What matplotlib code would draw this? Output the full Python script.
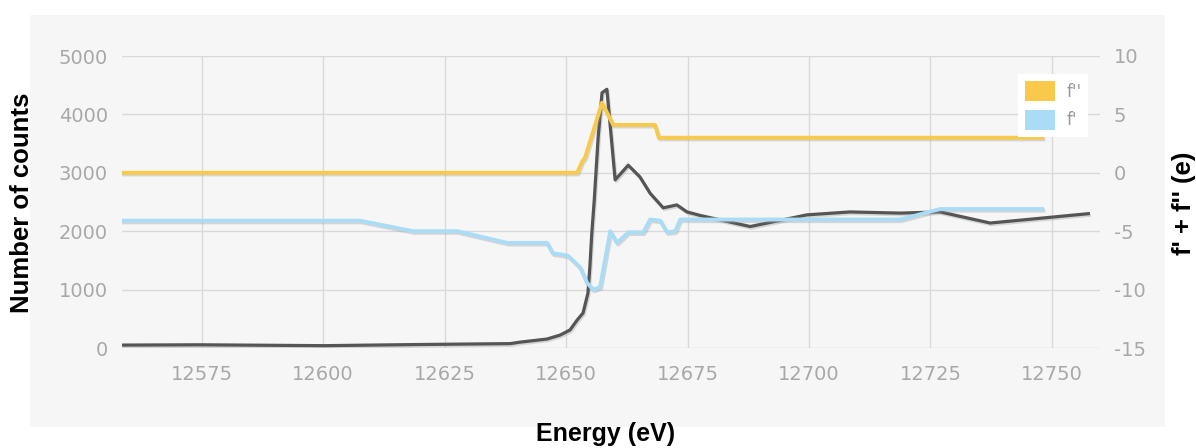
import matplotlib
matplotlib.use('Agg')
import matplotlib.pyplot as plt
import matplotlib.patheffects as pe
from matplotlib.patches import Patch, Rectangle

plt.rcParams['axes.unicode_minus'] = False

# values

# measured counts (left axis)
counts_e = [12558.6, 12574.6, 12600.2, 12620.0, 12638.5, 12640.5, 12646.1, 12648.8,
            12650.8, 12652.3, 12653.5, 12654.5, 12654.9, 12655.3, 12655.8, 12656.6,
            12657.4, 12658.4, 12660.1, 12662.8, 12665.2, 12667.3, 12670.0, 12672.8,
            12674.9, 12677.6, 12687.9, 12699.6, 12708.4, 12718.8, 12727.0, 12737.3,
            12757.5]
counts = [50, 55, 40, 60, 75, 100, 154, 222,
          308, 480, 600, 940, 1390, 1970, 2530, 3600,
          4370, 4430, 2880, 3130, 2930, 2650, 2400, 2450,
          2330, 2270, 2080, 2280, 2330, 2310, 2330, 2140,
          2300]

# f'' (right axis)
fpp_e = [12558.6, 12652.3, 12653.3, 12653.9, 12657.4, 12659.7, 12668.3, 12669.1, 12748.0]
fpp = [0.0, 0.0, 0.95, 1.3, 6.0, 4.1, 4.1, 3.0, 3.0]

# f' (right axis)
fp_e = [12558.6, 12607.6, 12618.5, 12627.6, 12637.9, 12646.1, 12647.3, 12649.0,
        12650.4, 12652.9, 12654.3, 12655.6, 12657.0, 12659.1, 12660.5, 12662.8,
        12665.9, 12667.3, 12669.4, 12670.8, 12672.5, 12673.5, 12718.8, 12727.0,
        12748.0]
fp = [-4.1, -4.1, -5.0, -5.0, -6.0, -6.0, -6.9, -7.0,
      -7.1, -8.1, -9.4, -10.0, -9.8, -5.0, -6.0, -5.1,
      -5.1, -4.0, -4.1, -5.1, -5.0, -4.0, -4.0, -3.1,
      -3.1]

x_ticks = [12575, 12600, 12625, 12650, 12675, 12700, 12725, 12750]
left_ticks = [0, 1000, 2000, 3000, 4000, 5000]
right_ticks = [-15, -10, -5, 0, 5, 10]

W, H = 1196, 448
fig = plt.figure(figsize=(W / 100, H / 100), dpi=100)
fig.patch.set_facecolor('white')

# light grey panel behind the chart
fig.patches.append(Rectangle((30 / W, 1 - 427 / H), (1165 - 30) / W, (427 - 15) / H,
                             transform=fig.transFigure, facecolor='#f6f6f6',
                             edgecolor='none', zorder=-10))

pos = [122 / W, 1 - 348 / H, (1100 - 122) / W, (348 - 56) / H]
ax = fig.add_axes(pos)
ax.set_facecolor('none')
ax2 = ax.twinx()
ax2.set_facecolor('none')

tick_color = '#a8a8a8'
shadow = [pe.SimpleLineShadow(offset=(0.8, -1.2), shadow_color='#999999', alpha=0.35), pe.Normal()]

ax.plot(counts_e, counts, color='#555555', lw=2.3, path_effects=shadow, zorder=3)
ax2.plot(fpp_e, fpp, color='#f8c94a', lw=2.8, path_effects=shadow, solid_joinstyle='round')
ax2.plot(fp_e, fp, color='#abdcf5', lw=2.8, path_effects=shadow, solid_joinstyle='round')

ax.set_xlim(12558.6, 12759.9)
ax.set_ylim(0, 5000)
ax2.set_ylim(-15, 10)
ax.set_xticks(x_ticks)
ax.set_yticks(left_ticks)
ax2.set_yticks(right_ticks)

ax.grid(True, color='#d9d9d9', lw=1.0)
ax.set_axisbelow(True)
for a in (ax, ax2):
    for s in a.spines.values():
        s.set_visible(False)

ax.tick_params(axis='both', length=0, labelsize=14, labelcolor=tick_color)
ax.tick_params(axis='x', pad=12)
ax.tick_params(axis='y', pad=10)
ax2.tick_params(axis='y', length=0, labelsize=14, labelcolor=tick_color, pad=10)

# axis titles
fig.text(22 / W, 1 - 203 / H, 'Number of counts', rotation=90, ha='center', va='center',
         fontsize=18.5, fontweight='bold', family='Liberation Sans')
fig.text(1184 / W, 1 - 203 / H, "f' + f'' (e)", rotation=90, ha='center', va='center',
         fontsize=18.5, fontweight='bold', family='Liberation Sans')
fig.text(606 / W, 2 / H, 'Energy (eV)', ha='center', va='bottom',
         fontsize=18, fontweight='bold', family='Liberation Sans')

handles = [Patch(facecolor='#f8c94a', edgecolor='none', label="f''"),
           Patch(facecolor='#abdcf5', edgecolor='none', label="f'")]
leg = ax2.legend(handles=handles, loc='upper left', bbox_to_anchor=(1010 / W, 1 - 66 / H),
                 bbox_transform=fig.transFigure, frameon=True, fancybox=False,
                 facecolor='white', edgecolor='none', framealpha=1, fontsize=12,
                 handlelength=1.8, handleheight=1.5, handletextpad=0.7,
                 labelspacing=0.5, borderpad=0.4)
for t in leg.get_texts():
    t.set_color('#999999')

fig.savefig('out.png', dpi=100)
